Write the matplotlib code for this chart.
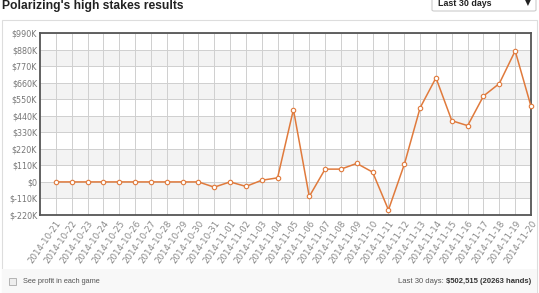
import matplotlib
matplotlib.use("Agg")
import matplotlib.pyplot as plt
from matplotlib.patches import Rectangle, FancyBboxPatch

dates = ["2014-10-21", "2014-10-22", "2014-10-23", "2014-10-24", "2014-10-25",
         "2014-10-26", "2014-10-27", "2014-10-28", "2014-10-29", "2014-10-30",
         "2014-10-31", "2014-11-01", "2014-11-02", "2014-11-03", "2014-11-04",
         "2014-11-05", "2014-11-06", "2014-11-07", "2014-11-08", "2014-11-09",
         "2014-11-10", "2014-11-11", "2014-11-12", "2014-11-13", "2014-11-14",
         "2014-11-15", "2014-11-16", "2014-11-17", "2014-11-18", "2014-11-19",
         "2014-11-20"]
profit_k = [0, 0, 0, 0, 0, 0, 0, 0, 0, 0,
            -35, 0, -30, 11, 27, 481, -97, 85, 85, 123,
            65, -186, 116, 493, 692, 407, 374, 571, 654, 871,
            502.5]
y_ticks = [-220, -110, 0, 110, 220, 330, 440, 550, 660, 770, 880, 990]
y_labels = ["$-220K", "$-110K", "$0", "$110K", "$220K", "$330K", "$440K",
            "$550K", "$660K", "$770K", "$880K", "$990K"]

W, H = 539, 293
fig = plt.figure(figsize=(W / 100, H / 100), dpi=100, facecolor="white")

# outer panel
fig.patches.append(Rectangle((2 / W, 0), 535 / W, 1 - 20 / H, transform=fig.transFigure,
                             facecolor="white", edgecolor="#dddddd", lw=0.8, zorder=-5))
fig.patches.append(Rectangle((2 / W, 0), 535 / W, 24 / H, transform=fig.transFigure,
                             facecolor="#f8f8f8", edgecolor="none", zorder=-4))

# title
fig.text(2 / W, 1 - 6 / H, "Polarizing's high stakes results", family="Liberation Sans",
         fontsize=8.7, fontweight="bold", color="#222222", va="center", ha="left")

# dropdown
fig.patches.append(FancyBboxPatch((432 / W, 1 - 11 / H), 104 / W, 14 / H,
                                  boxstyle="round,pad=0,rounding_size=0.004",
                                  transform=fig.transFigure, facecolor="white",
                                  edgecolor="#cccccc", lw=0.8, zorder=-3))
fig.text(438 / W, 1 - 3 / H, "Last 30 days", family="Liberation Sans", fontsize=6.4,
         fontweight="bold", color="#222222", va="center", ha="left")
fig.text(528 / W, 1 - 3 / H, "\u25BC", family="DejaVu Sans", fontsize=5.5,
         color="#222222", va="center", ha="center")

ax = fig.add_axes([40 / W, 1 - 215 / H, 491 / W, 182 / H])
ax.set_facecolor("white")
x = list(range(len(dates)))
ax.set_xlim(-1, len(dates) - 1)
ax.set_ylim(y_ticks[0], y_ticks[-1])

# alternating bands
for i in range(len(y_ticks) - 1):
    if i % 2 == 1:
        ax.axhspan(y_ticks[i], y_ticks[i + 1], color="#f3f3f3", zorder=0, lw=0)

ax.set_yticks(y_ticks)
ax.set_yticklabels(y_labels)
ax.set_xticks(x)
ax.set_xticklabels(dates, rotation=55, ha="right", rotation_mode="anchor")
ax.grid(True, color="#cfcfcf", lw=0.7, zorder=1)
ax.set_axisbelow(True)
ax.tick_params(axis="y", length=0, labelsize=5.8, labelcolor="#777777", pad=2)
ax.tick_params(axis="x", length=0, labelsize=6.2, labelcolor="#888888", pad=3)
for s in ax.spines.values():
    s.set_color("#555555")
    s.set_linewidth(1.3)

ax.plot(x, profit_k, color="#e07a3c", lw=1.1, marker="o", markersize=3.2,
        markerfacecolor="white", markeredgecolor="#e07a3c", markeredgewidth=0.8,
        zorder=3, clip_on=False)

# footer
fig.patches.append(Rectangle((9 / W, 1 - 285 / H), 7 / W, 7 / H, transform=fig.transFigure,
                             facecolor="#eeeeee", edgecolor="#aaaaaa", lw=0.6, zorder=-2))
fig.text(23 / W, 1 - 281.5 / H, "See profit in each game", family="Liberation Sans",
         fontsize=5.3, color="#555555", va="center", ha="left")
t = fig.text(531 / W, 1 - 281.5 / H, "$502,515 (20263 hands)", family="Liberation Sans",
             fontsize=5.5, fontweight="bold", color="#333333", va="center", ha="right")
fig.canvas.draw()
bb = t.get_window_extent()
fig.text(bb.x0 / W, 1 - 281.5 / H, "Last 30 days: ", family="Liberation Sans",
         fontsize=5.5, color="#555555", va="center", ha="right")

fig.savefig("out.png", dpi=100, facecolor="white")
